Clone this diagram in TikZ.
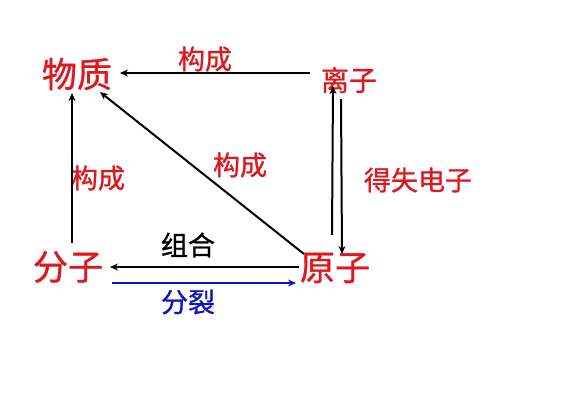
\documentclass[tikz,border=0pt]{standalone}
\usepackage{fontspec}
\newfontfamily\cjk[FakeBold=1]{Noto Sans CJK SC}
\usetikzlibrary{arrows.meta}
\definecolor{myred}{RGB}{222,24,30}
\definecolor{myblue}{RGB}{16,20,190}
\begin{document}
\begin{tikzpicture}[x=1pt,y=-1pt,
  big/.style={text=myred,font=\cjk\fontsize{35}{35}\selectfont,inner sep=0pt},
  mid/.style={text=myred,font=\cjk\fontsize{28}{28}\selectfont,inner sep=0pt},
  lab/.style={font=\cjk\fontsize{27}{27}\selectfont,inner sep=0pt},
  arr/.style={line width=2pt,-{Stealth[length=8pt,width=7pt]}}]
\useasboundingbox (0,0) rectangle (567,400);
\node[big] (wz) at (77,74) {物质};
\node[mid] (lz) at (349,80) {离子};
\node[big] (fz) at (68,267) {分子};
\node[big] (yz) at (335,268) {原子};
\node[lab,text=myred] (gc1) at (205,59) {构成};
\node[lab,text=myred] (gc2) at (98,178) {构成};
\node[lab,text=myred] (gc3) at (240,165) {构成};
\node[lab,text=myred] (ds) at (418,180) {得失电子};
\node[lab,text=black] (zh) at (188,245) {组合};
\node[lab,text=myblue] (fl) at (188,302) {分裂};
% arrow end points
\coordinate (a1s) at (310,73); \coordinate (a1e) at (120,73);
\coordinate (a2s) at (72,243); \coordinate (a2e) at (72,93);
\coordinate (a3s) at (304,254); \coordinate (a3e) at (100,92);
\coordinate (a4s) at (332,235); \coordinate (a4e) at (333,86);
\coordinate (a5s) at (341,99); \coordinate (a5e) at (342,254);
\coordinate (a6s) at (299,267); \coordinate (a6e) at (110,267);
\coordinate (a7s) at (112,283); \coordinate (a7e) at (296,283);
\draw[arr] (a1s) -- (a1e);
\draw[arr] (a2s) -- (a2e);
\draw[arr] (a3s) -- (a3e);
\draw[arr] (a4s) -- (a4e);
\draw[arr] (a5s) -- (a5e);
\draw[arr] (a6s) -- (a6e);
\draw[arr,myblue] (a7s) -- (a7e);
\end{tikzpicture}
\end{document}
